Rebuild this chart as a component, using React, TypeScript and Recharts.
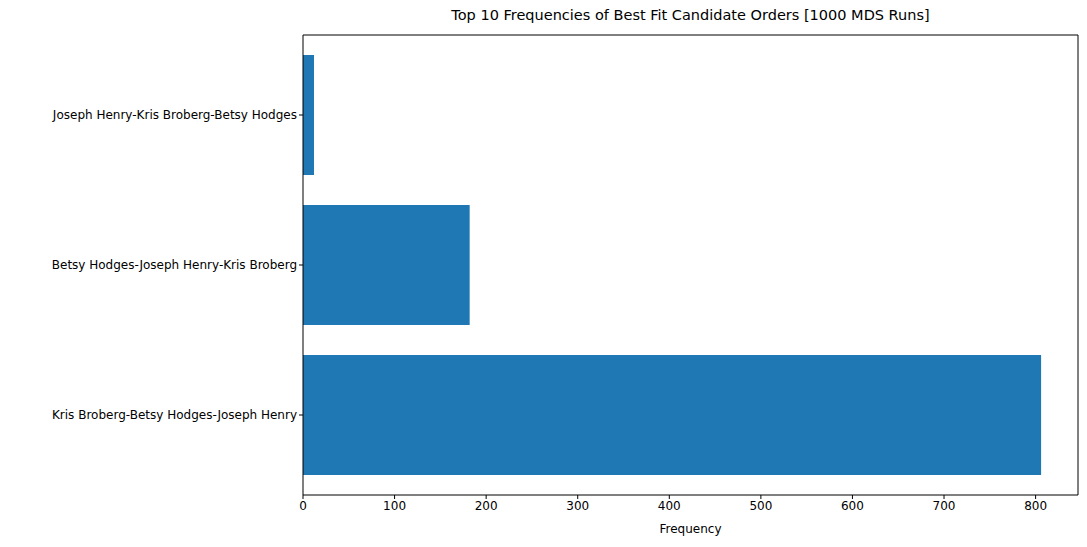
import React from 'react';
import { BarChart, Bar, XAxis, YAxis } from 'recharts';

const orders = [
  'Joseph Henry-Kris Broberg-Betsy Hodges',
  'Betsy Hodges-Joseph Henry-Kris Broberg',
  'Kris Broberg-Betsy Hodges-Joseph Henry',
];
const counts = [12, 182, 806];
const xTicks = [0, 100, 200, 300, 400, 500, 600, 700, 800];

const data = orders.map((order, i) => ({ order, count: counts[i] }));

const font = 'DejaVu Sans, sans-serif';

const App: React.FC = () => {
  return (
    <div style={{ margin: -8, position: 'relative', width: 1087, height: 547, fontFamily: font }}>
      <div style={{ position: 'absolute', top: 7, left: 303, width: 775, textAlign: 'center', fontSize: 14.5, color: '#000' }}>
        Top 10 Frequencies of Best Fit Candidate Orders [1000 MDS Runs]
      </div>
      <BarChart
        width={1087}
        height={547}
        data={data}
        layout="vertical"
        margin={{ top: 35, right: 9, bottom: 12, left: 0 }}
        barCategoryGap={15}
      >
        <XAxis
          type="number"
          domain={[0, 846.3]}
          ticks={xTicks}
          tick={{ fill: '#000', fontSize: 12, fontFamily: font }}
          tickLine={{ stroke: '#000' }}
          axisLine={{ stroke: '#000' }}
          tickSize={4}
          height={40}
          label={{ value: 'Frequency', position: 'insideBottom', offset: 2, fill: '#000', fontSize: 12, fontFamily: font }}
        />
        <YAxis
          type="category"
          dataKey="order"
          width={303}
          padding={{ top: 5, bottom: 5 }}
          tick={{ fill: '#000', fontSize: 12, fontFamily: font }}
          tickLine={{ stroke: '#000' }}
          axisLine={{ stroke: '#000' }}
          tickSize={4}
        />
        <Bar dataKey="count" fill="#1f77b4" isAnimationActive={false} />
        <line x1={303} y1={35} x2={1078} y2={35} stroke="#000" />
        <line x1={1078} y1={35} x2={1078} y2={495} stroke="#000" />
      </BarChart>
    </div>
  );
};

export default App;
